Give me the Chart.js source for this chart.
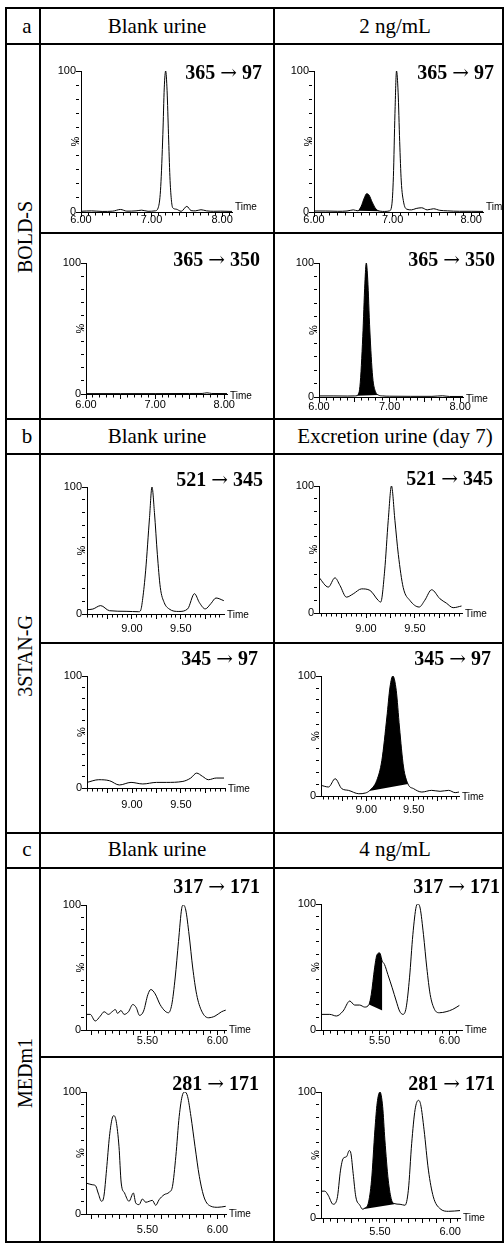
<!DOCTYPE html>
<html>
<head>
<meta charset="utf-8">
<script src="https://cdn.jsdelivr.net/npm/chart.js@4.4.1/dist/chart.umd.min.js"></script>
<style>
html, body { margin: 0; padding: 0; background: #fff; }
#page { position: relative; width: 504px; height: 1243px; overflow: hidden; font-family: "Liberation Serif", "Times New Roman", serif; color: #000; }
.ln { position: absolute; background: #000; }
.hd { position: absolute; font-size: 21px; line-height: 21px; white-space: nowrap; transform: translateX(-50%); }
.side { position: absolute; font-size: 20px; line-height: 20px; white-space: nowrap; transform: translate(-50%, -50%) rotate(-90deg); }
.mrm { position: absolute; font-weight: bold; font-size: 20px; line-height: 20px; white-space: nowrap; transform: translateX(-100%); }
.mrm .arr { font-family: "DejaVu Serif", serif; font-weight: normal; }
canvas { position: absolute; }
</style>
</head>
<body>
<div id="page"></div>
<script>
// text
const sections = ["a", "b", "c"];
const columnHeads = [["Blank urine", "2 ng/mL"], ["Blank urine", "Excretion urine (day 7)"], ["Blank urine", "4 ng/mL"]];
const compounds = ["BOLD-S", "3STAN-G", "MEDm1"];
const transitions = [["365 → 97", "365 → 350"], ["521 → 345", "345 → 97"], ["317 → 171", "281 → 171"]];
const axisNames = { x: "Time", y: "%" };

// a) BOLD-S
const a1Time = [6.00, 6.15, 6.30, 6.45, 6.56, 6.65, 6.78, 6.86, 6.95, 7.05, 7.10, 7.13, 7.16, 7.18, 7.20, 7.22, 7.24, 7.26, 7.28, 7.30, 7.35, 7.42, 7.50, 7.56, 7.62, 7.70, 7.78, 7.88, 7.98, 8.14];
const a1Pct = [0.5, 0.8, 0.4, 0.6, 1.8, 0.6, 0.8, 1.3, 0.5, 0.8, 4, 18, 55, 88, 100, 86, 55, 25, 9, 3, 2, 0.5, 4, 1, 0.8, 1.6, 0.8, 0.5, 0.6, 0.4];
const a2Time = [6.00, 6.15, 6.30, 6.42, 6.50, 6.56, 6.60, 6.64, 6.67, 6.70, 6.74, 6.79, 6.84, 6.90, 6.96, 6.99, 7.01, 7.03, 7.05, 7.07, 7.09, 7.11, 7.14, 7.18, 7.24, 7.30, 7.37, 7.44, 7.52, 7.60, 7.70, 7.85, 8.00, 8.15];
const a2Pct = [0.7, 0.7, 0.5, 0.7, 1.5, 0.8, 4, 10, 13, 12, 7, 2, 0.6, 0.4, 0.8, 5, 25, 70, 100, 85, 50, 22, 7, 2, 1.5, 2.5, 3, 1.5, 2.3, 1.2, 0.8, 0.5, 0.5, 0.4];
const a3Time = [6.00, 6.50, 7.00, 7.50, 7.68, 7.75, 7.82, 8.04];
const a3Pct = [0.3, 0.3, 0.3, 0.4, 0.4, 0.9, 0.4, 0.3];
const a4Time = [6.00, 6.20, 6.40, 6.50, 6.54, 6.58, 6.62, 6.65, 6.67, 6.69, 6.72, 6.76, 6.80, 6.84, 6.90, 7.00, 7.30, 7.60, 7.75, 7.85, 8.04];
const a4Pct = [0.8, 0.8, 0.7, 0.8, 1, 8, 45, 85, 100, 88, 50, 15, 4, 1.5, 0.8, 0.6, 0.5, 0.5, 0.9, 0.4, 0.4];

// b) 3STAN-G
const b1Time = [8.54, 8.60, 8.68, 8.77, 8.94, 9.07, 9.09, 9.11, 9.14, 9.18, 9.205, 9.23, 9.26, 9.29, 9.33, 9.38, 9.48, 9.57, 9.64, 9.69, 9.75, 9.81, 9.86, 9.94];
const b1Pct = [3.4, 3.9, 6.6, 2.6, 2.1, 1.8, 3, 12, 34, 76, 100, 80, 47, 21, 9, 4, 2, 4, 16, 9, 4, 8.4, 12.6, 10.5];
const b2Time = [8.52, 8.615, 8.683, 8.734, 8.80, 8.87, 8.955, 9.04, 9.125, 9.15, 9.19, 9.227, 9.26, 9.295, 9.33, 9.38, 9.448, 9.543, 9.60, 9.67, 9.755, 9.82, 9.89, 9.975];
const b2Pct = [28, 20.4, 27.7, 21.7, 12.5, 15.1, 19, 17.8, 9.9, 8.6, 33, 73, 100, 73, 46, 20, 9.9, 4.7, 10, 18.3, 11.2, 7.8, 4.2, 5.5];
const b3Time = [8.54, 8.66, 8.77, 8.87, 8.99, 9.11, 9.25, 9.35, 9.52, 9.60, 9.66, 9.72, 9.78, 9.86, 9.94];
const b3Pct = [5, 7.4, 6.5, 2.7, 5, 3.6, 5, 5, 5.9, 8.9, 13.3, 10.4, 7.4, 8.9, 8.9];
const b4Time = [8.52, 8.60, 8.67, 8.74, 8.81, 8.92, 8.99, 9.03, 9.11, 9.164, 9.217, 9.25, 9.28, 9.316, 9.35, 9.393, 9.44, 9.50, 9.587, 9.69, 9.78, 9.87, 9.94, 9.98];
const b4Pct = [8.9, 7.5, 14.4, 6.1, 4.7, 1.9, 2.5, 4.2, 13, 29.7, 65.8, 90.8, 100, 88, 57.5, 24.2, 10, 6.1, 3.3, 4.7, 3.9, 4.7, 2.8, 3.3];

// c) MEDm1
const c1Time = [5.06, 5.09, 5.126, 5.162, 5.19, 5.22, 5.252, 5.27, 5.286, 5.31, 5.333, 5.364, 5.395, 5.42, 5.443, 5.472, 5.503, 5.524, 5.555, 5.59, 5.626, 5.65, 5.674, 5.698, 5.722, 5.745, 5.757, 5.774, 5.798, 5.824, 5.852, 5.888, 5.936, 5.983, 6.03, 6.06];
const c1Pct = [12.5, 12.5, 7.2, 11.1, 14.6, 12.5, 15.1, 16.4, 13.3, 15.6, 12.5, 14.6, 20.4, 17.8, 11.7, 15.1, 28.4, 32.4, 28.9, 20.4, 15.1, 13.8, 20.4, 41.6, 70.8, 97.3, 100, 96, 76, 49.6, 28.4, 15.1, 9.8, 11.1, 14.6, 15.9];
const c2Time = [5.08, 5.143, 5.19, 5.238, 5.286, 5.321, 5.357, 5.393, 5.424, 5.44, 5.464, 5.48, 5.50, 5.519, 5.535, 5.559, 5.59, 5.619, 5.643, 5.667, 5.69, 5.714, 5.738, 5.762, 5.774, 5.79, 5.814, 5.838, 5.862, 5.893, 5.928, 5.976, 6.024, 6.071];
const c2Pct = [12.4, 12.4, 11.1, 15, 23, 19.8, 19.8, 18.2, 20.3, 28.2, 49.3, 59.4, 61.2, 54.6, 52, 44, 33.5, 23, 15, 12.4, 17.7, 41.4, 75.7, 98, 100, 96.8, 75.7, 49.3, 28.2, 16.4, 13.7, 14.5, 16.4, 19.5];
const c3Time = [5.06, 5.104, 5.128, 5.147, 5.171, 5.188, 5.207, 5.228, 5.248, 5.26, 5.276, 5.296, 5.312, 5.336, 5.368, 5.399, 5.416, 5.44, 5.464, 5.488, 5.512, 5.535, 5.559, 5.583, 5.619, 5.655, 5.679, 5.703, 5.727, 5.751, 5.768, 5.787, 5.811, 5.84, 5.871, 5.907, 5.955, 6.003, 6.06];
const c3Pct = [25.4, 24, 23.2, 17.2, 10.4, 14.5, 36.3, 63.7, 78.7, 80.6, 76, 55.5, 25.4, 17.2, 10.4, 17.2, 9, 7.7, 12.3, 9.6, 10.4, 11.2, 7.1, 11.7, 15.8, 17.8, 22.7, 47.3, 80, 97.8, 100, 96.4, 80, 55.5, 30.9, 13.1, 6.3, 5.5, 6.3];
const c4Time = [5.08, 5.107, 5.131, 5.166, 5.195, 5.219, 5.238, 5.262, 5.281, 5.293, 5.309, 5.328, 5.357, 5.376, 5.393, 5.416, 5.44, 5.464, 5.48, 5.50, 5.519, 5.535, 5.559, 5.583, 5.60, 5.643, 5.678, 5.702, 5.726, 5.75, 5.774, 5.79, 5.814, 5.845, 5.88, 5.928, 5.988, 6.07];
const c4Pct = [21.3, 21.3, 18.1, 10.9, 15.4, 38, 47.3, 48.7, 53.5, 51.3, 35.4, 16.8, 10.1, 7, 8, 11.4, 30, 70, 91.2, 100, 88.6, 62, 30, 14.1, 11.5, 10.9, 10.1, 22, 59.3, 86, 93.4, 90, 70, 38, 16.8, 7.4, 5.3, 5.9];

// integrated (black) peaks: time range and baseline at both ends
const fillA2Time = [6.56, 6.84], fillA2Base = [0.8, 0.6];
const fillA4Time = [6.54, 6.84], fillA4Base = [1, 1.5];
const fillB4Time = [9.03, 9.44], fillB4Base = [4.2, 10];
const fillC2Time = [5.424, 5.519], fillC2Base = [20.3, 15.5];
const fillC4Time = [5.376, 5.60], fillC4Base = [7, 10.9];

// axis ranges
const xRanges = {
  a1: [6, 8.14], a2: [6, 8.15], a3: [6, 8.04], a4: [6, 8.04],
  b1: [8.54, 9.942], b2: [8.52, 9.98], b3: [8.54, 9.95], b4: [8.52, 9.98],
  c1: [5.06, 6.062], c2: [5.08, 6.09], c3: [5.06, 6.062], c4: [5.08, 6.07]
};

// ---- layout ----
const page = document.getElementById("page");

function line(x, y, w, h) {
  const d = document.createElement("div");
  d.className = "ln";
  d.style.left = x + "px"; d.style.top = y + "px";
  d.style.width = w + "px"; d.style.height = h + "px";
  page.appendChild(d);
}
[7, 43, 418, 453, 832, 867, 1241].forEach(y => line(5, y, 499, 2));
[232, 642, 1056].forEach(y => line(39, y, 465, 2));
[5, 39, 273, 502].forEach(x => line(x, 7, 2, 1236));

function text(cls, str, x, y) {
  const d = document.createElement("div");
  d.className = cls;
  d.textContent = str;
  d.style.left = x + "px"; d.style.top = y + "px";
  page.appendChild(d);
  return d;
}
const headTop = [16, 426, 839];
const sideMid = [237, 656, 1073];
sections.forEach((s, i) => {
  text("hd", s, 27, headTop[i]);
  text("hd", columnHeads[i][0], 157, headTop[i]);
  text("hd", columnHeads[i][1], 395, headTop[i]);
  text("side", compounds[i], 25, sideMid[i]);
});

const panels = [
  { key: "a1", t: a1Time, v: a1Pct, minor: 0.1, major: 0.5, lab: 1, cell: [41, 45, 273, 232], area: [81, 71, 232, 212], gap: -4, tdy: -5, name: transitions[0][0], nx: 262, ny: 62 },
  { key: "a2", t: a2Time, v: a2Pct, fillT: fillA2Time, fillB: fillA2Base, minor: 0.1, major: 0.5, lab: 1, cell: [275, 45, 504, 232], area: [314, 71, 483, 212], gap: -4, tdy: -5, name: transitions[0][0], nx: 494, ny: 62 },
  { key: "a3", t: a3Time, v: a3Pct, minor: 0.1, major: 0.5, lab: 1, cell: [41, 234, 273, 418], area: [86, 263, 227, 394], gap: -1, tdy: 2, name: transitions[0][1], nx: 260, ny: 249 },
  { key: "a4", t: a4Time, v: a4Pct, fillT: fillA4Time, fillB: fillA4Base, minor: 0.1, major: 0.5, lab: 1, cell: [275, 234, 504, 418], area: [319, 263, 463, 397], gap: -2, tdy: 2, name: transitions[0][1], nx: 495, ny: 249 },
  { key: "b1", t: b1Time, v: b1Pct, minor: 0.05, major: 0.25, lab: 0.5, cell: [41, 455, 273, 642], area: [87, 487, 224, 614], gap: 3, tdy: 1, name: transitions[1][0], nx: 263, ny: 469 },
  { key: "b2", t: b2Time, v: b2Pct, minor: 0.05, major: 0.25, lab: 0.5, cell: [275, 455, 504, 642], area: [319, 486, 462, 613], gap: 4, tdy: 1, name: transitions[1][0], nx: 493, ny: 468 },
  { key: "b3", t: b3Time, v: b3Pct, minor: 0.05, major: 0.25, lab: 0.5, cell: [41, 644, 273, 832], area: [87, 676, 225, 788], gap: 5, tdy: 1, name: transitions[1][1], nx: 258, ny: 648 },
  { key: "b4", t: b4Time, v: b4Pct, fillT: fillB4Time, fillB: fillB4Base, minor: 0.05, major: 0.25, lab: 0.5, cell: [275, 644, 504, 832], area: [321, 676, 459, 796], gap: 2, tdy: 1, name: transitions[1][1], nx: 491, ny: 648 },
  { key: "c1", t: c1Time, v: c1Pct, minor: 0.05, major: 0.1, lab: 0.5, cell: [41, 869, 273, 1056], area: [86, 905, 226, 1030], gap: -1, tdy: 0, name: transitions[2][0], nx: 260, ny: 876 },
  { key: "c2", t: c2Time, v: c2Pct, fillT: fillC2Time, fillB: fillC2Base, minor: 0.05, major: 0.1, lab: 0.5, cell: [275, 869, 504, 1056], area: [321, 904, 462, 1030], gap: -1, tdy: 0, name: transitions[2][0], nx: 500, ny: 876 },
  { key: "c3", t: c3Time, v: c3Pct, minor: 0.05, major: 0.1, lab: 0.5, cell: [41, 1058, 273, 1241], area: [86, 1092, 226, 1214], gap: 4, tdy: 0, name: transitions[2][1], nx: 259, ny: 1073 },
  { key: "c4", t: c4Time, v: c4Pct, fillT: fillC4Time, fillB: fillC4Base, minor: 0.05, major: 0.1, lab: 0.5, cell: [275, 1058, 504, 1241], area: [321, 1092, 460, 1218], gap: 2, tdy: 0, name: transitions[2][1], nx: 495, ny: 1073 }
];

const isMult = (v, s) => Math.abs(v / s - Math.round(v / s)) < 1e-6;
const tickFont = { family: '"Liberation Sans", Arial, sans-serif', size: 11 };

// Time / % captions next to the axes
const axisText = {
  id: "axisText",
  afterDraw(chart, args, opts) {
    const { ctx, chartArea: a } = chart;
    ctx.save();
    ctx.fillStyle = "#000";
    ctx.font = '10px "Liberation Sans", Arial, sans-serif';
    ctx.textBaseline = "middle";
    ctx.textAlign = "left";
    ctx.fillText(axisNames.x, a.right + 3, a.bottom + opts.dy);
    ctx.translate(a.left - 5, (a.top + a.bottom) / 2);
    ctx.rotate(-Math.PI / 2);
    ctx.textAlign = "center";
    ctx.font = '11px "Liberation Sans", Arial, sans-serif';
    ctx.fillText(axisNames.y, 0, 0);
    ctx.restore();
  }
};

Chart.defaults.color = "#000";

panels.forEach(p => {
  const cv = document.createElement("canvas");
  const w = p.cell[2] - p.cell[0], h = p.cell[3] - p.cell[1];
  cv.width = w; cv.height = h;
  cv.style.left = p.cell[0] + "px"; cv.style.top = p.cell[1] + "px";
  cv.style.width = w + "px"; cv.style.height = h + "px";
  page.appendChild(cv);

  const pts = p.t.map((x, i) => ({ x: x, y: p.v[i] }));
  const datasets = [{
    data: pts, borderColor: "#000", borderWidth: 1, pointRadius: 0,
    cubicInterpolationMode: "monotone", fill: false
  }];
  if (p.fillT) {
    const sub = pts.filter(d => d.x >= p.fillT[0] - 1e-9 && d.x <= p.fillT[1] + 1e-9);
    datasets.push({
      data: sub, borderColor: "rgba(0,0,0,0)", borderWidth: 0, pointRadius: 0,
      cubicInterpolationMode: "monotone", backgroundColor: "#000", fill: "+1"
    });
    datasets.push({
      data: [{ x: p.fillT[0], y: p.fillB[0] }, { x: p.fillT[1], y: p.fillB[1] }],
      borderColor: "rgba(0,0,0,0)", borderWidth: 0, pointRadius: 0, fill: false
    });
  }

  new Chart(cv.getContext("2d"), {
    type: "line",
    data: { datasets: datasets },
    options: {
      responsive: false,
      animation: false,
      devicePixelRatio: 1,
      layout: { padding: { left: 0, bottom: 0, top: p.area[1] - p.cell[1], right: p.cell[2] - p.area[2] } },
      plugins: { legend: { display: false }, tooltip: { enabled: false }, axisText: { dy: p.tdy } },
      scales: {
        x: {
          type: "linear",
          min: xRanges[p.key][0],
          max: xRanges[p.key][1],
          afterFit: s => { s.height = p.cell[3] - p.area[3]; },
          border: { color: "#000", width: 1 },
          grid: {
            drawOnChartArea: false, color: "#000", tickLength: 5,
            tickBorderDash: c => (c.tick && isMult(c.tick.value, p.major)) ? [] : [2.5, 20]
          },
          ticks: {
            stepSize: p.minor, autoSkip: false, maxTicksLimit: 1000, includeBounds: false,
            maxRotation: 0, minRotation: 0, padding: p.gap, color: "#000", font: tickFont,
            callback: v => isMult(v, p.lab) ? v.toFixed(2) : ""
          }
        },
        y: {
          min: 0, max: 100,
          afterFit: s => { s.width = p.area[0] - p.cell[0]; },
          border: { color: "#000", width: 1 },
          grid: {
            drawOnChartArea: false, color: "#000", tickLength: 5,
            tickBorderDash: c => (c.tick && (c.tick.value === 0 || c.tick.value === 100)) ? [] : [3, 20]
          },
          ticks: {
            stepSize: 10, autoSkip: false, includeBounds: false, padding: 0, color: "#000", font: tickFont,
            callback: v => (v === 0 || v === 100) ? String(v) : ""
          }
        }
      }
    },
    plugins: [axisText]
  });

  // transition label; the arrow gets a wider glyph
  const d = text("mrm", "", p.nx, p.ny);
  p.name.split("→").forEach((part, k) => {
    if (k > 0) {
      const s = document.createElement("span");
      s.className = "arr";
      s.textContent = "→";
      d.appendChild(s);
    }
    d.appendChild(document.createTextNode(part));
  });
});
</script>
</body>
</html>
